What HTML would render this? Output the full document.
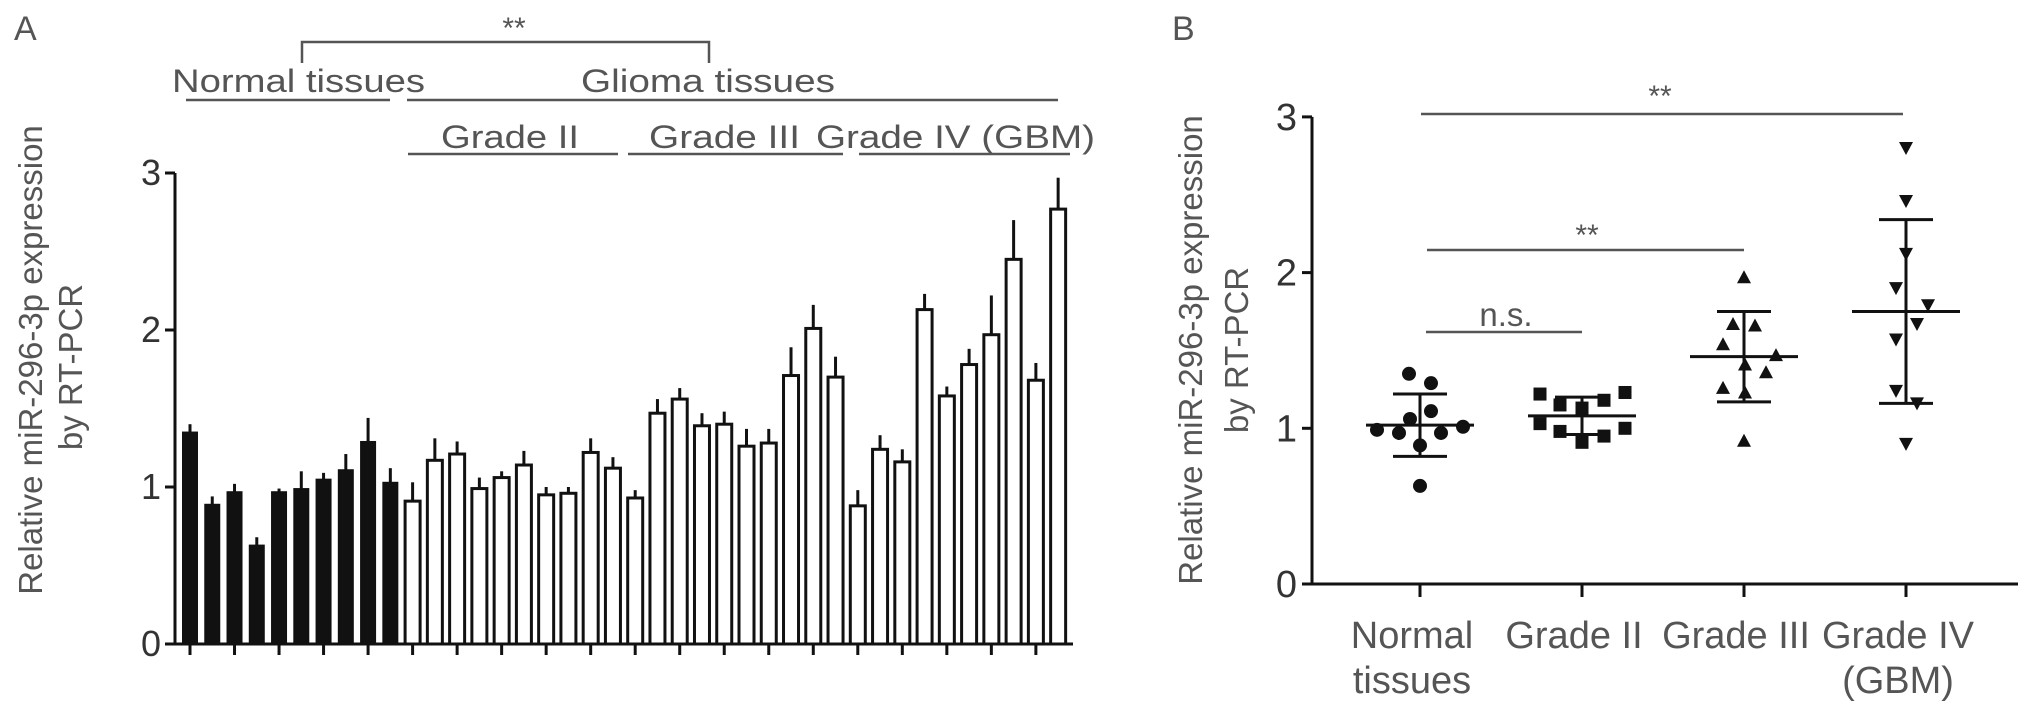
<!DOCTYPE html>
<html><head><meta charset="utf-8"><style>
html,body{margin:0;padding:0;background:#fff;}
svg{display:block;font-family:"Liberation Sans",Arial,sans-serif;}
</style></head><body>
<svg id="fig" width="2031" height="716" viewBox="0 0 2031 716" xmlns="http://www.w3.org/2000/svg">
<g fill="#555" stroke="none">
  <text x="14" y="40" font-size="34">A</text>
  <text x="514" y="38" font-size="30" text-anchor="middle">**</text>
  <path d="M302 63 V42 H709 V63" fill="none" stroke="#555" stroke-width="2.5"/>
  <text x="172" y="92" font-size="32" textLength="253" lengthAdjust="spacingAndGlyphs">Normal tissues</text>
  <text x="581" y="92" font-size="32" textLength="254" lengthAdjust="spacingAndGlyphs">Glioma tissues</text>
  <line x1="186" y1="100" x2="390" y2="100" stroke="#555" stroke-width="2.5"/>
  <line x1="407" y1="100" x2="1058" y2="100" stroke="#555" stroke-width="2.5"/>
  <text x="441" y="148" font-size="32" textLength="138" lengthAdjust="spacingAndGlyphs">Grade II</text>
  <text x="649" y="148" font-size="32" textLength="151" lengthAdjust="spacingAndGlyphs">Grade III</text>
  <text x="816" y="148" font-size="32" textLength="279" lengthAdjust="spacingAndGlyphs">Grade IV (GBM)</text>
  <line x1="408" y1="154" x2="618" y2="154" stroke="#555" stroke-width="2.5"/>
  <line x1="628" y1="154" x2="843" y2="154" stroke="#555" stroke-width="2.5"/>
  <line x1="859" y1="154" x2="1070" y2="154" stroke="#555" stroke-width="2.5"/>
  <text transform="translate(42,360) rotate(-90)" font-size="33" text-anchor="middle">Relative miR-296-3p expression</text>
  <text transform="translate(82,367) rotate(-90)" font-size="33" text-anchor="middle">by RT-PCR</text>
</g>
<g id="barsA"></g>
<g fill="#555">
  <text x="1172" y="40" font-size="34">B</text>
  <text transform="translate(1202,350) rotate(-90)" font-size="33" text-anchor="middle">Relative miR-296-3p expression</text>
  <text transform="translate(1248,350) rotate(-90)" font-size="33" text-anchor="middle">by RT-PCR</text>
  <line x1="1421" y1="114" x2="1903" y2="114" stroke="#555" stroke-width="2.5"/>
  <text x="1660" y="106" font-size="30" text-anchor="middle">**</text>
  <line x1="1427" y1="250" x2="1744" y2="250" stroke="#555" stroke-width="2.5"/>
  <text x="1587" y="245" font-size="30" text-anchor="middle">**</text>
  <line x1="1426" y1="332" x2="1582" y2="332" stroke="#555" stroke-width="2.5"/>
  <text x="1506" y="326" font-size="33" text-anchor="middle">n.s.</text>
</g>
<g id="scatterB"></g>
</svg>
<script>
// ---------- Panel A data ----------
const barValues = [1.35,0.89,0.97,0.63,0.97,0.99,1.05,1.11,1.29,1.03,
  0.91,1.17,1.21,0.99,1.06,1.14,0.95,0.96,1.22,1.12,
  0.93,1.47,1.56,1.39,1.40,1.26,1.28,1.71,2.01,1.70,
  0.88,1.24,1.16,2.13,1.58,1.78,1.97,2.45,1.68,2.77];
const barErrors = [0.05,0.05,0.05,0.05,0.02,0.11,0.04,0.10,0.15,0.09,
  0.12,0.14,0.08,0.07,0.04,0.09,0.05,0.04,0.09,0.07,
  0.05,0.09,0.07,0.08,0.08,0.11,0.09,0.18,0.15,0.13,
  0.10,0.09,0.08,0.10,0.06,0.10,0.25,0.25,0.11,0.20];
const barGroups = ['normal','normal','normal','normal','normal','normal','normal','normal','normal','normal',
  'g2','g2','g2','g2','g2','g2','g2','g2','g2','g2',
  'g3','g3','g3','g3','g3','g3','g3','g3','g3','g3',
  'g4','g4','g4','g4','g4','g4','g4','g4','g4','g4'];
const yTicksA = [0,1,2,3];

// ---------- Panel B data ----------
const categoriesB = ['Normal tissues','Grade II','Grade III','Grade IV (GBM)'];
const labelLinesB = [['Normal','tissues'],['Grade II'],['Grade III'],['Grade IV','(GBM)']];
const markerB = ['circle','square','up','down'];
const normalPts = [1.35,1.29,1.11,1.06,0.99,0.97,0.97,1.01,0.89,0.63];
const grade2Pts = [1.22,1.15,1.13,1.18,1.23,1.03,0.98,0.91,0.95,1.00];
const grade3Pts = [1.97,1.67,1.66,1.54,1.47,1.41,1.36,1.26,1.23,0.92];
const grade4Pts = [2.80,2.46,2.12,1.90,1.79,1.67,1.57,1.24,1.16,0.90];
const meansB = [1.02,1.08,1.46,1.75];
const sdB = [0.20,0.12,0.29,0.59];
const jitterN = [-11,11,11,-10,-43,-21,21,43,0,0];
const jitter2 = [-42,-22,0,22,43,-42,-22,0,22,43];
const jitter3 = [0,-11,11,-21,32,1,22,-21,1,0];
const jitter4 = [0,0,0,-10,22,11,-10,-10,11,0];
const yTicksB = [0,1,2,3];

const NS='http://www.w3.org/2000/svg';
function mk(tag, attrs, parent){const e=document.createElementNS(NS,tag);for(const k in attrs)e.setAttribute(k,attrs[k]);parent.appendChild(e);return e;}

// ---------- Panel A ----------
const gA=document.getElementById('barsA');
const A={x0:175,xEnd:1073,y0:644,unit:157,first:190,pitch:22.26,bw:15};
const yA=v=>A.y0-v*A.unit;
const xA=i=>A.first+i*A.pitch;
barValues.forEach((v,i)=>{
  const filled=barGroups[i]==='normal';
  const top=yA(v), et=yA(v+barErrors[i]);
  const eb=mk('line',{x1:xA(i),x2:xA(i),y1:top,y2:et,stroke:'#111','stroke-width':3},gA);
  
  
  const r=mk('rect',{x:xA(i)-A.bw/2,y:top,width:A.bw,height:A.y0-top,fill:filled?'#111':'#fff',stroke:'#111','stroke-width':filled?1:3},gA);
  
  
  if(i%2===0){const t=mk('line',{x1:xA(i),x2:xA(i),y1:A.y0,y2:A.y0+11,stroke:'#111','stroke-width':3},gA);
    
    }
});
const axA=mk('path',{d:`M${A.x0} ${yA(3)} V${A.y0} H${A.xEnd}`,fill:'none',stroke:'#111','stroke-width':3},gA);


yTicksA.forEach(t=>{
  const l=mk('line',{x1:A.x0-10,x2:A.x0,y1:yA(t),y2:yA(t),stroke:'#111','stroke-width':3},gA);
  
  
  const tx=mk('text',{x:A.x0-14,y:yA(t)+12,'font-size':36,'text-anchor':'end',fill:'#333'},gA);
  tx.textContent=String(t);
  
  
});

// ---------- Panel B ----------
const gB=document.getElementById('scatterB');
const B={x0:1312,xEnd:2018,y0:584,unit:155.7,first:1420,pitch:162};
const yB=v=>B.y0-v*B.unit;
const xB=i=>B.first+i*B.pitch;
const ptsB=[normalPts,grade2Pts,grade3Pts,grade4Pts];
const jitB=[jitterN,jitter2,jitter3,jitter4];
categoriesB.forEach((c,ci)=>{
  const cx=xB(ci);
  ptsB[ci].forEach((v,pi)=>{
    const x=cx+jitB[ci][pi], y=yB(v); let m;
    if(markerB[ci]==='circle') m=mk('circle',{cx:x,cy:y,r:7,fill:'#111'},gB);
    else if(markerB[ci]==='square') m=mk('rect',{x:x-6.5,y:y-6.5,width:13,height:13,fill:'#111'},gB);
    else if(markerB[ci]==='up') m=mk('polygon',{points:`${x},${y-7} ${x-7},${y+6} ${x+7},${y+6}`,fill:'#111'},gB);
    else m=mk('polygon',{points:`${x},${y+7} ${x-7},${y-6} ${x+7},${y-6}`,fill:'#111'},gB);
    
    
  });
  const mean=meansB[ci], sd=sdB[ci];
  const ml=mk('line',{x1:cx-54,x2:cx+54,y1:yB(mean),y2:yB(mean),stroke:'#111','stroke-width':3},gB);
  
  
  const sv=mk('line',{x1:cx,x2:cx,y1:yB(mean+sd),y2:yB(mean-sd),stroke:'#111','stroke-width':3},gB);
  
  
  [mean+sd,mean-sd].forEach(s=>{
    const cap=mk('line',{x1:cx-27,x2:cx+27,y1:yB(s),y2:yB(s),stroke:'#111','stroke-width':3},gB);
    
    
  });
  const tk=mk('line',{x1:cx,x2:cx,y1:B.y0,y2:B.y0+13,stroke:'#111','stroke-width':3},gB);
  
  
  labelLinesB[ci].forEach((ln,li)=>{
    const t=mk('text',{x:cx-8,y:648+li*45,'font-size':38,'text-anchor':'middle',fill:'#555'},gB);
    t.textContent=ln;
    
    
  });
});
const axB=mk('path',{d:`M${B.x0} ${yB(3)} V${B.y0} H${B.xEnd}`,fill:'none',stroke:'#111','stroke-width':3},gB);


yTicksB.forEach(t=>{
  const l=mk('line',{x1:B.x0-10,x2:B.x0,y1:yB(t),y2:yB(t),stroke:'#111','stroke-width':3},gB);
  
  
  const tx=mk('text',{x:B.x0-15,y:yB(t)+13,'font-size':38,'text-anchor':'end',fill:'#333'},gB);
  tx.textContent=String(t);
  
  
});
</script>
</body></html>
